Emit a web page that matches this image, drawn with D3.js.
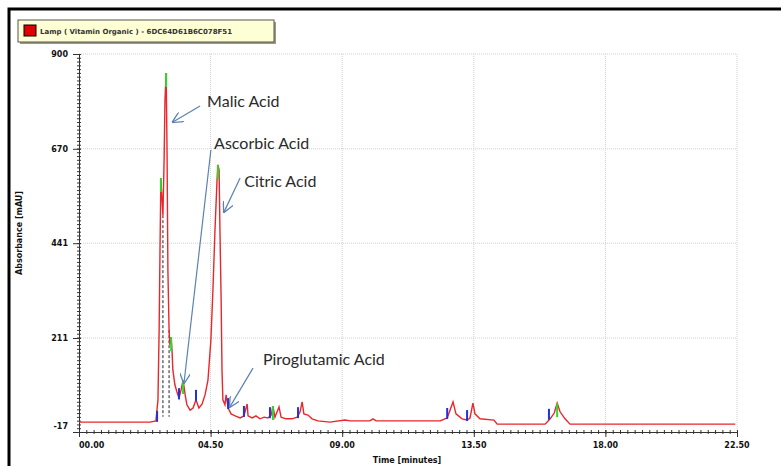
<!DOCTYPE html>
<html>
<head>
<meta charset="utf-8">
<script src="https://cdn.jsdelivr.net/npm/d3@7"></script>
<style>
  body { margin: 0; background: #fff; }
  svg { display: block; }
</style>
</head>
<body>
<div id="chart"></div>
<script>
// Chromatogram trace: time (min), absorbance (mAU)
var times = [0.00, 2.43, 2.63, 2.70, 2.74, 2.77, 2.80, 2.84, 2.87, 2.91, 2.94, 2.98, 3.01, 3.04, 3.08, 3.11,
             3.15, 3.18, 3.21, 3.28, 3.35, 3.42, 3.49, 3.56, 3.63, 3.69, 3.80, 3.90, 4.00, 4.10, 4.21, 4.31,
             4.41, 4.51, 4.58, 4.65, 4.72, 4.75, 4.79, 4.82, 4.86, 4.89, 4.92, 4.99, 5.03, 5.10, 5.20, 5.34,
             5.51, 5.64, 5.75, 5.78, 5.92, 6.05, 6.19, 6.33, 6.46, 6.57, 6.63, 6.70, 6.84, 6.91, 7.08, 7.28,
             7.46, 7.56, 7.63, 7.69, 7.83, 7.97, 8.17, 8.58, 9.10, 9.27, 9.95, 10.05, 10.16, 12.35, 12.59, 12.79,
             12.89, 13.10, 13.27, 13.37, 13.47, 13.54, 13.71, 14.19, 14.30, 15.94, 16.11, 16.25, 16.35, 16.45, 16.62, 16.79,
             22.44];
var absorbance = [7, 7, 10, 61, 230, 425, 599, 546, 509, 643, 788, 854, 667, 376, 230, 194,
                  213, 182, 133, 97, 80, 65, 85, 109, 73, 49, 36, 41, 61, 41, 51, 73,
                  109, 206, 328, 473, 594, 631, 619, 473, 303, 133, 61, 49, 73, 41, 27, 22,
                  17, 22, 51, 22, 17, 22, 15, 19, 17, 24, 46, 19, 44, 19, 15, 15,
                  19, 32, 56, 27, 24, 15, 10, 7, 12, 10, 10, 15, 10, 10, 17, 56,
                  27, 15, 12, 17, 53, 27, 15, 12, 2, 2, 15, 29, 53, 32, 15, 2,
                  2];

// Peak markers
var apexMarks = [[2.80, 599], [2.98, 854], [3.15, 213], [3.56, 109], [4.75, 631], [6.63, 46], [16.35, 53]];
var startMarks = [[2.67, 10], [3.42, 65], [4.00, 61], [5.10, 41], [5.64, 22], [6.53, 19], [7.49, 19],
                  [12.59, 17], [13.27, 12], [16.07, 15]];
var dropLines = [[2.87, 509], [3.08, 230]];

// Axis ticks
var xTicks = [0, 4.5, 9, 13.5, 18, 22.5];
var xTickLabels = ["00.00", "04.50", "09.00", "13.50", "18.00", "22.50"];
var yTicks = [-17, 211, 441, 670, 900];

// Annotations: label, text anchor (time, value), arrow from, arrow to
var annLabels = ["Malic Acid", "Ascorbic Acid", "Citric Acid", "Piroglutamic Acid"];
var annText = [[4.38, 784], [4.62, 684], [5.65, 592], [6.29, 160]];
var annFrom = [[4.14, 774], [4.51, 667], [5.51, 599], [5.95, 138]];
var annTo = [[3.21, 735], [3.59, 102], [4.96, 517], [5.16, 44]];

var legendText = "Lamp ( Vitamin Organic ) - 6DC64D61B6C078F51";

var W = 781, H = 466;
var margin = {top: 54, right: 44, bottom: 34, left: 79},
    width = W - margin.left - margin.right,
    height = H - margin.top - margin.bottom;

var root = d3.select("#chart").append("svg")
  .attr("width", W).attr("height", H);

// Black frame (top and left)
root.append("rect").attr("x", 9).attr("y", 9).attr("width", W).attr("height", H)
  .attr("fill", "none").attr("stroke", "#000").attr("stroke-width", 3);

// Legend box
var leg = root.append("g").attr("transform", "translate(18,20)");
leg.append("rect").attr("x", 2).attr("y", 2).attr("width", 256).attr("height", 22).attr("fill", "#9a9a80");
leg.append("rect").attr("width", 256).attr("height", 22)
  .attr("fill", "#ffffd6").attr("stroke", "#555").attr("stroke-width", 1);
leg.append("rect").attr("x", 6).attr("y", 5).attr("width", 12).attr("height", 11)
  .attr("fill", "#e00000").attr("stroke", "#000").attr("stroke-width", 1);
leg.append("text").attr("x", 22).attr("y", 14)
  .style("font", "bold 7px 'DejaVu Sans'").attr("fill", "#333")
  .text(legendText);

var svg = root.append("g")
  .attr("transform", "translate(" + margin.left + "," + margin.top + ")");

var x = d3.scaleLinear().domain([0, 22.5]).range([0, width]);
var y = d3.scaleLinear().domain([-17, 900]).range([height, 0]);

// Grid
svg.append("g").selectAll("line").data(xTicks.slice(1)).join("line")
  .attr("x1", function(d) { return x(d); }).attr("x2", function(d) { return x(d); })
  .attr("y1", 0).attr("y2", height)
  .attr("stroke", "#cfcfcf").attr("stroke-dasharray", "1,1");
svg.append("g").selectAll("line").data(yTicks.slice(1)).join("line")
  .attr("x1", 0).attr("x2", width)
  .attr("y1", function(d) { return y(d); }).attr("y2", function(d) { return y(d); })
  .attr("stroke", "#cfcfcf").attr("stroke-dasharray", "1,1");

// Axes with minor ticks
var xAxis = svg.append("g").attr("transform", "translate(0," + height + ")");
xAxis.call(d3.axisBottom(x).tickValues(d3.range(0, 22.51, 0.25)).tickSize(2).tickFormat(""));
xAxis.append("g").call(d3.axisBottom(x).tickValues(xTicks).tickSize(5).tickFormat(""));
xAxis.selectAll("path, line").attr("stroke", "#333");
xAxis.selectAll(".tick line").attr("y1", -2);
xAxis.append("g").selectAll("text").data(xTicks).join("text")
  .attr("x", function(d) { return x(d); }).attr("y", 16)
  .attr("text-anchor", function(d, i) { return i === 0 ? "start" : "middle"; })
  .style("font", "bold 8px 'DejaVu Sans'").attr("fill", "#111")
  .text(function(d, i) { return xTickLabels[i]; });

var yAxis = svg.append("g");
yAxis.call(d3.axisLeft(y).tickValues(d3.range(-17, 900, 9.17)).tickSize(2).tickFormat(""));
yAxis.append("g").call(d3.axisLeft(y).tickValues(yTicks).tickSize(6).tickFormat(""));
yAxis.selectAll("path, line").attr("stroke", "#333");
yAxis.selectAll(".tick line").attr("x1", 2);
yAxis.append("g").selectAll("text").data(yTicks).join("text")
  .attr("x", -11)
  .attr("y", function(d, i) { return y(d) + (i === 0 ? -6 : 0); })
  .attr("dy", "0.35em").attr("text-anchor", "end")
  .style("font", "bold 8px 'DejaVu Sans'").attr("fill", "#111")
  .text(function(d) { return d; });

// Axis titles
svg.append("text")
  .attr("transform", "translate(" + (width / 2 - 1) + "," + (height + 31) + ")")
  .style("text-anchor", "middle").style("font", "bold 8px 'DejaVu Sans'").attr("fill", "#111")
  .text("Time [minutes]");
svg.append("text")
  .attr("transform", "rotate(-90)")
  .attr("x", -(height / 2) + 10).attr("y", -57)
  .style("text-anchor", "middle").style("font", "bold 8px 'DejaVu Sans'").attr("fill", "#111")
  .text("Absorbance [mAU]");

// Drop lines
svg.append("g").selectAll("line").data(dropLines).join("line")
  .attr("x1", function(d) { return x(d[0]); }).attr("x2", function(d) { return x(d[0]); })
  .attr("y1", function(d) { return y(d[1]); }).attr("y2", y(20))
  .attr("stroke", "#222").attr("stroke-dasharray", "3,2").attr("stroke-width", 1);

// Signal trace
var trace = times.map(function(t, i) { return {t: t, v: absorbance[i]}; });
svg.append("path")
  .datum(trace)
  .attr("fill", "none")
  .attr("stroke", "#e8262b")
  .attr("stroke-width", 1.4)
  .attr("d", d3.line()
    .x(function(d) { return x(d.t); })
    .y(function(d) { return y(d.v); }));

// Peak start (blue) and apex (green) markers
svg.append("g").selectAll("line").data(startMarks).join("line")
  .attr("x1", function(d) { return x(d[0]); }).attr("x2", function(d) { return x(d[0]); })
  .attr("y1", function(d) { return y(d[1]) + 1; }).attr("y2", function(d) { return y(d[1]) - 10; })
  .attr("stroke", "#2430d8").attr("stroke-width", 2);
svg.append("g").selectAll("line").data(apexMarks).join("line")
  .attr("x1", function(d) { return x(d[0]); }).attr("x2", function(d) { return x(d[0]); })
  .attr("y1", function(d) { return y(d[1]); }).attr("y2", function(d) { return y(d[1]) + 14; })
  .attr("stroke", "#2ed62e").attr("stroke-width", 2);

// Annotations
var defs = root.append("defs");
defs.append("marker").attr("id", "arr")
  .attr("viewBox", "0 0 10 10").attr("refX", 9).attr("refY", 5)
  .attr("markerWidth", 9).attr("markerHeight", 9).attr("orient", "auto")
  .append("path").attr("d", "M0,0 L10,5 L0,10").attr("fill", "none")
  .attr("stroke", "#5b82b0").attr("stroke-width", 1.2);

var ann = svg.append("g");
annLabels.forEach(function(label, i) {
  ann.append("line")
    .attr("x1", x(annFrom[i][0])).attr("y1", y(annFrom[i][1]))
    .attr("x2", x(annTo[i][0])).attr("y2", y(annTo[i][1]))
    .attr("stroke", "#5b82b0").attr("stroke-width", 1.2)
    .attr("marker-end", "url(#arr)");
  ann.append("text")
    .attr("x", x(annText[i][0])).attr("y", y(annText[i][1]))
    .attr("dy", "0.35em")
    .style("font", "16px Lato").attr("fill", "#2a2a2a")
    .text(label);
});
</script>
</body>
</html>
